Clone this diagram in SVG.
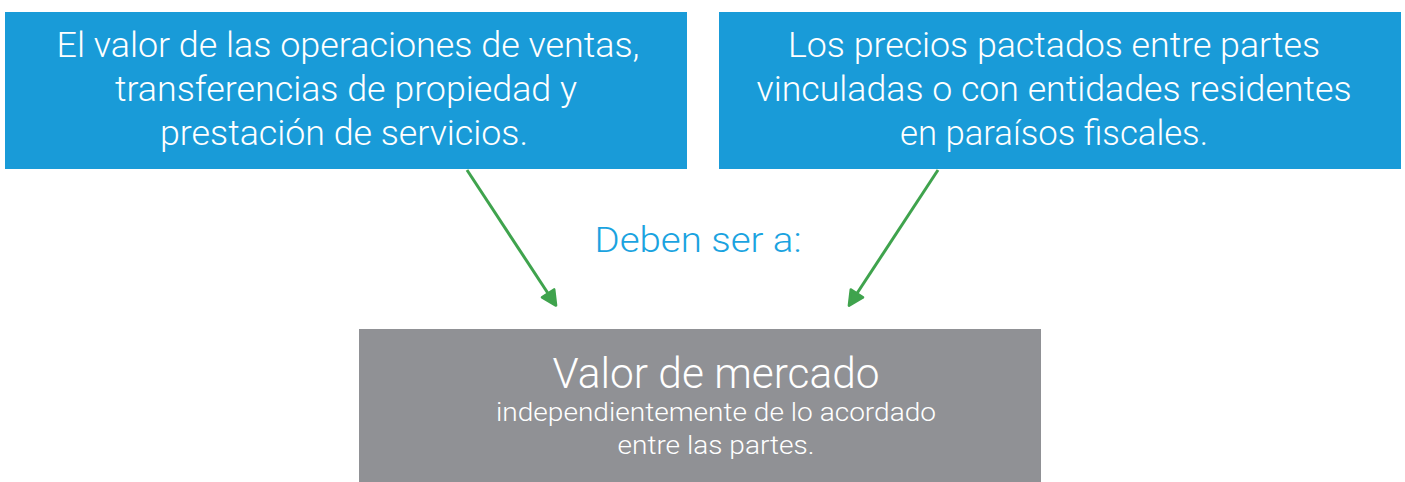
<svg xmlns="http://www.w3.org/2000/svg" width="1405" height="482" viewBox="0 0 1405 482">
<defs>
<style>
.box{fill:#199bd8}
.gbox{fill:#909195}
.t{font-family:"Roboto","Open Sans","Liberation Sans",sans-serif;font-weight:300;fill:#ffffff;text-anchor:middle}
.top{font-size:35px}
.conn{stroke:#3fa34d;stroke-width:3;fill:none}
</style>
<marker id="ah" viewBox="0 0 10 10" refX="8" refY="5" markerWidth="6" markerHeight="6" orient="auto" markerUnits="strokeWidth">
<path d="M1,1 L9,5 L1,9 Z" fill="#3fa34d" stroke="#3fa34d" stroke-width="1.5" stroke-linejoin="round"/>
</marker>
</defs>
<rect width="1405" height="482" fill="#ffffff"/>
<g id="node-left">
<rect class="box" x="5" y="12" width="682" height="157"/>
<text class="t top" x="348" y="57" textLength="583" lengthAdjust="spacingAndGlyphs">El valor de las operaciones de ventas,</text>
<text class="t top" x="346" y="101" textLength="462" lengthAdjust="spacingAndGlyphs">transferencias de propiedad y</text>
<text class="t top" x="344" y="145" textLength="368" lengthAdjust="spacingAndGlyphs">prestación de servicios.</text>
</g>
<g id="node-right">
<rect class="box" x="719" y="12" width="682" height="157"/>
<text class="t top" x="1054" y="57" textLength="532" lengthAdjust="spacingAndGlyphs">Los precios pactados entre partes</text>
<text class="t top" x="1054" y="101" textLength="595" lengthAdjust="spacingAndGlyphs">vinculadas o con entidades residentes</text>
<text class="t top" x="1054" y="145" textLength="308" lengthAdjust="spacingAndGlyphs">en paraísos fiscales.</text>
</g>
<g id="label-deben">
<text x="698" y="252" font-family="Roboto,'Open Sans','Liberation Sans',sans-serif" font-weight="300" font-size="35" fill="#1aa3e0" text-anchor="middle" textLength="207" lengthAdjust="spacingAndGlyphs">Deben ser a:</text>
</g>
<g id="node-bottom">
<rect class="gbox" x="359" y="329" width="682" height="153"/>
<text class="t" x="716" y="388" font-size="42" textLength="327" lengthAdjust="spacingAndGlyphs">Valor de mercado</text>
<text class="t" x="716" y="421" font-size="26" textLength="440" lengthAdjust="spacingAndGlyphs">independientemente de lo acordado</text>
<text class="t" x="716" y="454" font-size="26" textLength="197" lengthAdjust="spacingAndGlyphs">entre las partes.</text>
</g>
<g id="connectors">
<line class="conn" x1="467" y1="170" x2="555" y2="304" marker-end="url(#ah)"/>
<line class="conn" x1="938" y1="170" x2="850" y2="304" marker-end="url(#ah)"/>
</g>
</svg>
